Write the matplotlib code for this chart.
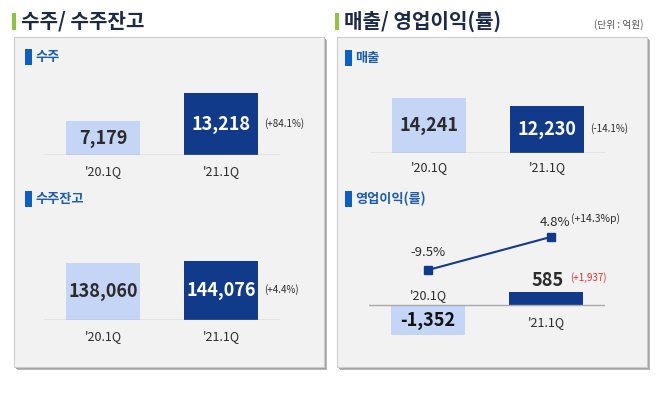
import matplotlib
matplotlib.use("Agg")
import matplotlib.pyplot as plt
from matplotlib.patches import Rectangle

W, H = 660, 394
PT = 0.72  # pixels -> points at dpi 100
plt.rcParams["font.family"] = ["Noto Sans CJK KR", "DejaVu Sans"]

# data
quarters = ["'20.1Q", "'21.1Q"]
orders = [7179, 13218]
orders_chg = "(+84.1%)"
backlog = [138060, 144076]
backlog_chg = "(+4.4%)"
sales = [14241, 12230]
sales_chg = "(-14.1%)"
op_profit = [-1352, 585]
op_profit_chg = "(+1,937)"
op_margin = [-9.5, 4.8]
op_margin_chg = "(+14.3%p)"

LIGHT = "#c4d5f5"
DARK = "#123a8b"
NAVY_TXT = "#1c2a48"
SUB_BLUE = "#1d5db0"
MARK_BLUE = "#0b60c8"
GREEN = "#8cc63e"
TXT = "#2b2b2b"

fig = plt.figure(figsize=(W / 100, H / 100), dpi=100)
bg = fig.add_axes([0, 0, 1, 1])
bg.set_xlim(0, W)
bg.set_ylim(H, 0)
bg.axis("off")


def panel(x0, y0, x1, y1):
    bg.add_patch(Rectangle((x0 + 3, y0 + 3), x1 - x0, y1 - y0, color="#b8b8b8", lw=0))
    bg.add_patch(Rectangle((x0 + 2, y0 + 2), x1 - x0, y1 - y0, color="#a2a2a2", lw=0))
    bg.add_patch(Rectangle((x0, y0), x1 - x0, y1 - y0, facecolor="#f2f2f2",
                           edgecolor="#cdcdcd", lw=0.8))


def heading(x, y, text):
    bg.add_patch(Rectangle((x - 9, y - 8), 4, 17, color=GREEN, lw=0))
    bg.text(x, y, text, fontsize=14.5, fontweight="bold", color=NAVY_TXT, va="center", ha="left")


def subtitle(x, y, text):
    bg.add_patch(Rectangle((x - 10, y - 8), 7, 16, color=MARK_BLUE, lw=0))
    bg.text(x, y, text, fontsize=9.5, fontweight="bold", color=SUB_BLUE, va="center", ha="left")


def px_axes(x0, x1, y0, y1):
    ax = fig.add_axes([x0 / W, 1 - y1 / H, (x1 - x0) / W, (y1 - y0) / H])
    ax.set_xlim(-0.5, 1.5)
    ax.axis("off")
    ax.patch.set_alpha(0)
    return ax


def bar_chart(ax, values, ylim, change, cat_dy):
    ax.set_ylim(*ylim)
    ax.bar(range(2), values, width=0.63, color=[LIGHT, DARK], zorder=2)
    ax.axhline(0, color="#a8a8a8", lw=1, zorder=3)
    for i, v in enumerate(values):
        ax.text(i, v / 2, f"{v:,}", ha="center", va="center", fontsize=13,
                fontweight="bold", color=TXT if i == 0 else "white", zorder=4)
    for i, q in enumerate(quarters):
        ax.annotate(q, (i, 0), xytext=(0, cat_dy * PT), textcoords="offset points",
                    ha="center", va="center", fontsize=9, color=TXT)
    if change:
        ax.annotate(change, (1.315, values[1] / 2), xytext=(6 * PT, 1 * PT),
                    textcoords="offset points", ha="left", va="center",
                    fontsize=7, color=TXT)


panel(14, 37, 324, 367)
panel(337, 37, 647, 367)
heading(21, 21, "수주/ 수주잔고")
heading(344, 21, "매출/ 영업이익(률)")
bg.text(643, 25, "(단위 : 억원)", fontsize=7, color="#555555", ha="right", va="center")

subtitle(35, 57, "수주")
subtitle(35, 199, "수주잔고")
subtitle(355, 58, "매출")
subtitle(355, 199, "영업이익(률)")

# 수주
ax = px_axes(44, 280, 85, 155)
bar_chart(ax, orders, (0, 15000), orders_chg, -17)

# 수주잔고
ax = px_axes(44, 280, 250, 320)
bar_chart(ax, backlog, (0, 171000), backlog_chg, -17)

# 매출
ax = px_axes(370, 606, 83, 153)
bar_chart(ax, sales, (0, 18100), sales_chg, -15)

# 영업이익(률)
ax = px_axes(369, 605, 225, 345)
ax.set_ylim(-1800, 3600)
ax.bar(range(2), op_profit, width=0.63, color=[LIGHT, DARK], zorder=2)
ax.axhline(0, color="#a8a8a8", lw=1, zorder=3)
ax.text(0, op_profit[0] / 2, f"{op_profit[0]:,}", ha="center", va="center", fontsize=13,
        fontweight="bold", color="#111111", zorder=4)
ax.annotate(f"{op_profit[1]:,}", (1, op_profit[1]), xytext=(2 * PT, 12 * PT),
            textcoords="offset points", ha="center", va="center", fontsize=13,
            fontweight="bold", color=TXT)
ax.annotate(op_profit_chg, (1, op_profit[1]), xytext=(24 * PT, 14 * PT),
            textcoords="offset points", ha="left", va="center", fontsize=7,
            color="#e0302c")
ax.annotate(quarters[0], (0, 0), xytext=(0, 9 * PT), textcoords="offset points",
            ha="center", va="center", fontsize=9, color=TXT)
ax.annotate(quarters[1], (1, 0), xytext=(0, -18 * PT), textcoords="offset points",
            ha="center", va="center", fontsize=9, color=TXT)

lx = ax.twinx()
lx.set_xlim(-0.5, 1.5)
lx.set_ylim(-42, 10)
lx.axis("off")
lx.plot([0, 1.04], op_margin, color=DARK, lw=1.5, marker="s", ms=6, zorder=5)
lx.annotate(f"{op_margin[0]}%", (0, op_margin[0]), xytext=(0, 17 * PT),
            textcoords="offset points", ha="center", va="center", fontsize=9.5, color=TXT)
lx.annotate(f"{op_margin[1]}%", (1.04, op_margin[1]), xytext=(4 * PT, 15 * PT),
            textcoords="offset points", ha="center", va="center", fontsize=9.5, color=TXT)
lx.annotate(op_margin_chg, (1.04, op_margin[1]), xytext=(20 * PT, 18 * PT),
            textcoords="offset points", ha="left", va="center", fontsize=7.5, color=TXT)

fig.savefig("out.png", dpi=100, facecolor="white")
